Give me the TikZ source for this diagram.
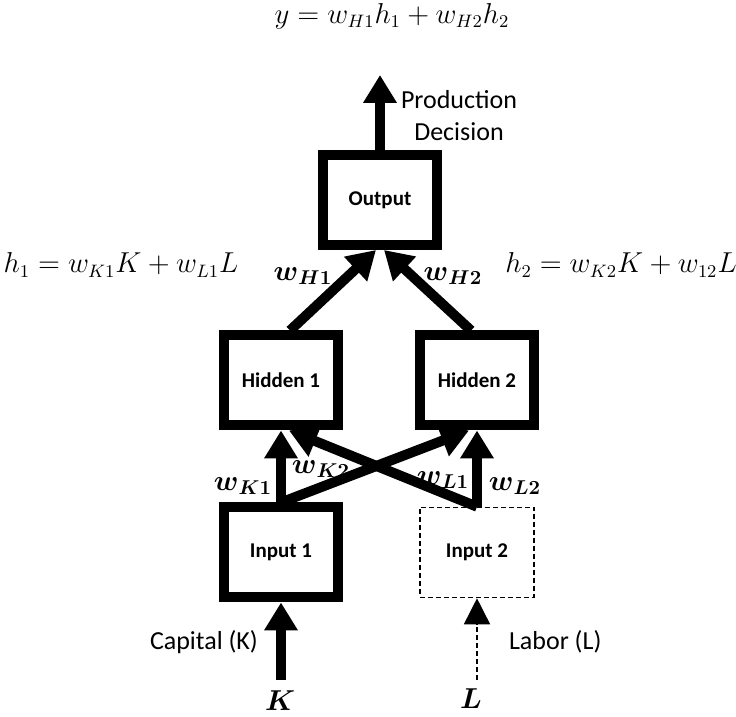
\documentclass[tikz,border=0pt]{standalone}
\usepackage{amsmath,amssymb}
\usepackage{fontspec}
\setmainfont{Carlito}
\usetikzlibrary{positioning,arrows.meta}

\begin{document}
\begin{tikzpicture}[x=0.5pt, y=-0.5pt,
    box/.style={rectangle, draw, line width=5pt, minimum width=57pt, minimum height=45pt, font=\fontsize{10.5}{12}\selectfont\bfseries},
    dbox/.style={rectangle, draw, dashed, dash pattern=on 2.5pt off 1.5pt, line width=0.8pt, minimum width=57pt, minimum height=45pt, font=\fontsize{10.5}{12}\selectfont\bfseries},
    arrow/.style={-{Triangle[length=14pt,width=16pt]}, line width=5pt},
    darrow/.style={-{Triangle[length=13pt,width=13pt]}, line width=0.8pt, dash pattern=on 2.5pt off 1.5pt},
    wlabel/.style={font=\fontsize{14}{17}\selectfont},
    eqn/.style={font=\fontsize{13.5}{16}\selectfont},
    lbl/.style={font=\fontsize{13}{16}\selectfont}]

    \useasboundingbox (0,0) rectangle (736,717);

    % boxes
    \node [box] (output) at (380,200) {Output};
    \node [box] (hidden1) at (281,380.5) {Hidden 1};
    \node [box, right=36pt of hidden1] (hidden2) {Hidden 2};
    \node [box, below=36pt of hidden1] (input1) {Input 1};
    \node [dbox] (input2) at (hidden2 |- input1) {Input 2};

    \coordinate (decision) at (380,75);
    \coordinate (kin) at (281,680);
    \coordinate (lin) at (477,680);

    % connections
    \draw [arrow] (output.north) -- (decision);
    \draw [arrow] ([xshift=4.5pt]hidden1.north) -- ([xshift=-2pt]output.south);
    \draw [arrow] ([xshift=-3pt]hidden2.north) -- ([xshift=2pt]output.south);
    \draw [arrow] (input1.north) -- (hidden1.south);
    \draw [arrow] (input1.north) -- ([xshift=-4pt]hidden2.south);
    \draw [arrow] (input2.north) -- ([xshift=4pt]hidden1.south);
    \draw [arrow] (input2.north) -- (hidden2.south);
    \draw [arrow] (kin) -- (input1.south);
    \draw [darrow] (lin) -- (input2.south);

    % labels
    \node [lbl, align=center] (prod) at (459,116) {Production\\Decision};
    \node [lbl, anchor=east] (capital) at (265,642) {Capital (K)};
    \node [lbl, anchor=west] (labor) at (502,642) {Labor (L)};
    \node [wlabel] (klabel) at (280,701) {$\boldsymbol{K}$};
    \node [wlabel] (llabel) at (471,699) {$\boldsymbol{L}$};

    \node [wlabel] (wh1) at (303,276) {$\boldsymbol{w}_{\boldsymbol{H1}}$};
    \node [wlabel] (wh2) at (453,276) {$\boldsymbol{w}_{\boldsymbol{H2}}$};
    \node [wlabel] (wk1) at (243,486) {$\boldsymbol{w}_{\boldsymbol{K1}}$};
    \node [wlabel] (wk2) at (321,469) {$\boldsymbol{w}_{\boldsymbol{K2}}$};
    \node [wlabel] (wl1) at (443,480) {$\boldsymbol{w}_{\boldsymbol{L1}}$};
    \node [wlabel] (wl2) at (515,486) {$\boldsymbol{w}_{\boldsymbol{L2}}$};

    \node [eqn] (ytop) at (392,16) {$y = w_{H1}h_1 + w_{H2}h_2$};
    \node [eqn] (h1eq) at (121,265) {$h_1 = w_{K1}K + w_{L1}L$};
    \node [eqn] (h2eq) at (621,265) {$h_2 = w_{K2}K + w_{12}L$};
\end{tikzpicture}
\end{document}
